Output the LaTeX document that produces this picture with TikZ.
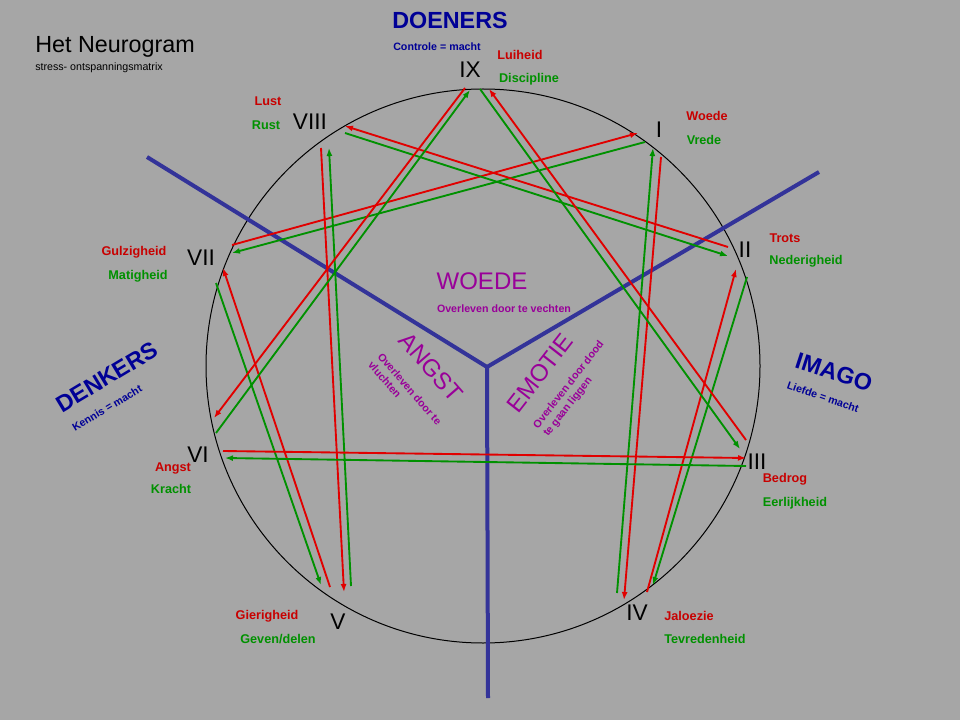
\documentclass[tikz,border=0pt]{standalone}
\usepackage{fontspec}
\setmainfont{Liberation Sans}
\usetikzlibrary{arrows.meta}
\definecolor{bg}{RGB}{166,166,166}
\definecolor{lred}{RGB}{225,0,0}
\definecolor{tred}{RGB}{200,0,0}
\definecolor{lgreen}{RGB}{0,145,0}
\definecolor{navy}{RGB}{0,0,150}
\definecolor{bline}{RGB}{51,51,153}
\definecolor{purp}{RGB}{153,0,153}
\begin{document}
\begin{tikzpicture}[x=0.75pt,y=-0.75pt,
  stress/.style={draw=lred,line width=1.4pt,-{Latex[length=6pt,width=4.5pt]}},
  integ/.style={draw=lgreen,line width=1.4pt,-{Latex[length=6pt,width=4.5pt]}},
  roman/.style={font=\fontsize{17}{17}\selectfont,text=black,inner sep=0pt},
  vice/.style={font=\bfseries\fontsize{9.5}{10}\selectfont,text=tred,inner sep=0pt},
  virtue/.style={font=\bfseries\fontsize{9.5}{10}\selectfont,text=lgreen,inner sep=0pt},
  grouplbl/.style={font=\bfseries\fontsize{17.5}{18}\selectfont,text=navy,inner sep=0pt},
  powerlbl/.style={font=\bfseries\fontsize{8}{9}\selectfont,text=navy,inner sep=0pt},
  corelbl/.style={font=\fontsize{18}{18}\selectfont,text=purp,inner sep=0pt},
  coresub/.style={font=\bfseries\fontsize{8}{9.5}\selectfont,text=purp,inner sep=0pt,align=left},
  axisline/.style={draw=bline,line width=3pt},
]
\fill[bg] (0,0) rectangle (960,720);
\useasboundingbox (0,0) rectangle (960,720);

% title
\node[anchor=west,inner sep=0pt,font=\fontsize{17.5}{18}\selectfont] (title) at (35,47) {Het Neurogram};
\node[anchor=west,inner sep=0pt,font=\fontsize{8}{9}\selectfont] (subtitle) at (35,68) {stress- ontspanningsmatrix};

% circle
\draw[black,line width=0.75pt] (483,366) circle [radius=277];

% blue axes
\coordinate (J) at (487,367);
\coordinate (BL) at (147,157);
\coordinate (BR) at (819,172);
\coordinate (BD) at (488,698);
\draw[axisline] (BL) -- (J) -- (BR);
\draw[axisline] (J) -- (BD);

% endpoints: red (stress)
\coordinate (r1s) at (232,245); \coordinate (r1e) at (638,133);
\coordinate (r2s) at (728,247); \coordinate (r2e) at (345,126);
\coordinate (r3s) at (321,148); \coordinate (r3e) at (344,592);
\coordinate (r4s) at (330,587); \coordinate (r4e) at (223,268);
\coordinate (r5s) at (661,157); \coordinate (r5e) at (624,600);
\coordinate (r6s) at (647,592); \coordinate (r6e) at (736,269);
\coordinate (r7s) at (465,88);  \coordinate (r7e) at (214,418);
\coordinate (r8s) at (746,440); \coordinate (r8e) at (489,89);
\coordinate (r9s) at (223,451); \coordinate (r9e) at (746,458);
% endpoints: green (integration)
\coordinate (g1s) at (645,142); \coordinate (g1e) at (232,253);
\coordinate (g2s) at (345,133); \coordinate (g2e) at (728,256);
\coordinate (g3s) at (351,586); \coordinate (g3e) at (329,148);
\coordinate (g4s) at (216,283); \coordinate (g4e) at (321,585);
\coordinate (g5s) at (617,593); \coordinate (g5e) at (653,148);
\coordinate (g6s) at (747,277); \coordinate (g6e) at (653,585);
\coordinate (g7s) at (216,433); \coordinate (g7e) at (470,90);
\coordinate (g8s) at (480,89);  \coordinate (g8e) at (740,449);
\coordinate (g9s) at (746,466); \coordinate (g9e) at (225,458);

\foreach \i in {1,...,9} {
  \draw[integ] (g\i s) -- (g\i e);
  \draw[stress] (r\i s) -- (r\i e);
}

% roman numerals
\node[roman] (nIX) at (470,70) {IX};
\node[roman] (nI) at (659,130) {I};
\node[roman] (nII) at (745,250) {II};
\node[roman] (nIII) at (757,462) {III};
\node[roman] (nIV) at (637,613) {IV};
\node[roman] (nV) at (338,622) {V};
\node[roman] (nVI) at (198,455) {VI};
\node[roman] (nVII) at (201,258) {VII};
\node[roman] (nVIII) at (310,122) {VIII};

% vices / virtues
\node[vice] (v9) at (520,55) {Luiheid};
\node[virtue] (d9) at (529,79) {Discipline};
\node[vice] (v1) at (707,116) {Woede};
\node[virtue] (d1) at (704,140) {Vrede};
\node[vice] (v2) at (785,238) {Trots};
\node[virtue] (d2) at (806,261) {Nederigheid};
\node[vice] (v3) at (785,479) {Bedrog};
\node[virtue] (d3) at (795,503) {Eerlijkheid};
\node[vice] (v4) at (689,616) {Jaloezie};
\node[virtue] (d4) at (705,639) {Tevredenheid};
\node[vice] (v5) at (267,616) {Gierigheid};
\node[virtue] (d5) at (278,639) {Geven/delen};
\node[vice] (v6) at (173,468) {Angst};
\node[virtue] (d6) at (171,489) {Kracht};
\node[vice] (v7) at (134,252) {Gulzigheid};
\node[virtue] (d7) at (138,276) {Matigheid};
\node[vice] (v8) at (268,101) {Lust};
\node[virtue] (d8) at (266,125) {Rust};

% groups
\node[grouplbl] (doeners) at (450,20) {DOENERS};
\node[powerlbl] (doenersp) at (437,47) {Controle = macht};
\node[grouplbl,rotate=31] (denkers) at (107,377) {DENKERS};
\node[powerlbl,rotate=31] (denkersp) at (107,408) {Kennis = macht};
\node[grouplbl,rotate=-18] (imago) at (834,372) {IMAGO};
\node[powerlbl,rotate=-19] (imagop) at (823,397) {Liefde = macht};

% core emotions
\node[corelbl] (woede) at (482,281) {WOEDE};
\node[coresub] (woedes) at (504,309) {Overleven door te vechten};
\node[corelbl,rotate=-49] (angst) at (431,367) {ANGST};
\node[coresub,rotate=-49] (angsts) at (405,393) {Overleven door te\\vluchten};
\node[corelbl,rotate=52] (emotie) at (540,373) {EMOTIE};
\node[coresub,rotate=52] (emoties) at (574,389) {Overleven door dood\\te gaan liggen};
\end{tikzpicture}
\end{document}
